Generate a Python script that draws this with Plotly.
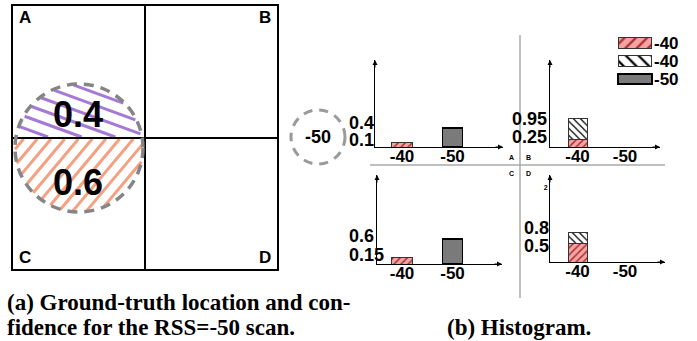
import numpy as np
import plotly.graph_objects as go

W, H = 697, 341

# ---------------- data ----------------
rss_categories = ['-40', '-50']
cell_confidence = ['0.4', '0.6']          # upper (A) / lower (C) part of the circle
scan_rss = '-50'

hist_A_pink = [0.10, 0.0]
hist_A_gray = [0.0, 0.40]
hist_C_pink = [0.15, 0.0]
hist_C_gray = [0.0, 0.60]
hist_B_pink = [0.25, 0.0]
hist_B_white = [0.70, 0.0]                # stacked, cumulative 0.95
hist_D_pink = [0.50, 0.0]
hist_D_white = [0.30, 0.0]                # stacked, cumulative 0.8

labels_A = ['0.4', '0.1']
labels_C = ['0.6', '0.15']
labels_B = ['0.95', '0.25']
labels_D = ['0.8', '0.5']
legend_labels = ['-40', '-40', '-50']

# ---------------- helpers ----------------
def px(x):
    return x / W

def py(y):
    return 1 - y / H

SANS = 'Liberation Sans'
SERIF = 'Liberation Serif'
PINK_BG = '#f7a3a3'
PINK_FG = '#a83232'
GRAY = '#7a7a7a'

fig = go.Figure()

# pixel canvas for the left drawing
fig.update_layout(
    xaxis=dict(domain=[0, 1], range=[0, W], visible=False, fixedrange=True),
    yaxis=dict(domain=[0, 1], range=[H, 0], visible=False, fixedrange=True),
)


def hatch(cx, cy, r, theta_deg, spacing, side, ysplit):
    th = np.radians(theta_deg)
    d = np.array([np.cos(th), np.sin(th)])
    n = np.array([-np.sin(th), np.cos(th)])
    c0 = np.array([cx, cy])
    xs, ys = [], []
    for c in np.arange(-r + spacing / 2, r, spacing):
        half = np.sqrt(max(r * r - c * c, 0))
        t0, t1 = -half, half
        y0 = cy + c * n[1]
        if abs(d[1]) > 1e-9:
            ts = (ysplit - y0) / d[1]
            if side == 'upper':
                if d[1] > 0:
                    t1 = min(t1, ts)
                else:
                    t0 = max(t0, ts)
            else:
                if d[1] > 0:
                    t0 = max(t0, ts)
                else:
                    t1 = min(t1, ts)
        if t1 > t0:
            p0 = c0 + c * n + t0 * d
            p1 = c0 + c * n + t1 * d
            xs += [p0[0], p1[0], None]
            ys += [p0[1], p1[1], None]
    return xs, ys

CX, CY, R = 79, 148, 63
SPLIT = 138
hx, hy = hatch(CX, CY, R, 20, 11.5, 'upper', SPLIT - 1)
fig.add_trace(go.Scatter(x=hx, y=hy, mode='lines', line=dict(color='#a57ad6', width=3),
                         hoverinfo='skip', showlegend=False, xaxis='x', yaxis='y'))
hx, hy = hatch(CX, CY, R + 1, -50, 10.5, 'lower', SPLIT + 1)
fig.add_trace(go.Scatter(x=hx, y=hy, mode='lines', line=dict(color='#f5a080', width=3),
                         hoverinfo='skip', showlegend=False, xaxis='x', yaxis='y'))

shapes = []
# grid of the floor plan
shapes.append(dict(type='rect', xref='x', yref='y', x0=12, x1=278, y0=5, y1=270,
                   line=dict(color='black', width=2)))
shapes.append(dict(type='line', xref='x', yref='y', x0=145, x1=145, y0=5, y1=270,
                   line=dict(color='black', width=2)))
shapes.append(dict(type='line', xref='x', yref='y', x0=12, x1=278, y0=SPLIT, y1=SPLIT,
                   line=dict(color='black', width=2)))
# dashed circles
shapes.append(dict(type='circle', xref='x', yref='y', x0=CX - 64, x1=CX + 64, y0=CY - 64, y1=CY + 64,
                   line=dict(color='#858585', width=3.5, dash='10px,7px')))
shapes.append(dict(type='circle', xref='x', yref='y', x0=291, x1=345, y0=110, y1=164,
                   line=dict(color='#9a9a9a', width=3, dash='9px,7px')))
# dividers of the histogram panel
shapes.append(dict(type='line', xref='x', yref='y', x0=520, x1=520, y0=35, y1=298,
                   line=dict(color='#aaaaaa', width=1.5)))
shapes.append(dict(type='line', xref='x', yref='y', x0=370, x1=665, y0=165, y1=165,
                   line=dict(color='#aaaaaa', width=1.5)))

annotations = []

def txt(x, y, s, size, xanchor='center', family=SANS, weight='bold', color='black'):
    annotations.append(dict(x=px(x), y=py(y), xref='paper', yref='paper', text=s,
                            showarrow=False, xanchor=xanchor, yanchor='middle',
                            font=dict(family=family, size=size, color=color, weight=weight)))

for lab, (x, y) in zip('ABCD', [(25, 18), (265, 18), (25, 257), (265, 257)]):
    txt(x, y, lab, 17)
txt(78, 115, cell_confidence[0], 36)
txt(78, 182, cell_confidence[1], 36)
txt(318, 137, scan_rss, 18)
for lab, (x, y) in zip('ABCD', [(511, 157), (528, 157), (511, 173), (528, 173)]):
    txt(x, y, lab, 7)

# captions
txt(5, 302, '(a) Ground-truth location and con-', 23, xanchor='left', family=SERIF)
txt(5, 327, 'fidence for the RSS=-50 scan.', 23, xanchor='left', family=SERIF)
txt(445, 327, '(b) Histogram.', 23, xanchor='left', family=SERIF)

# ---------------- histograms ----------------
panels = {
    'A': dict(n=2, x=(375, 503), y=(147, 60), xr=[-0.535, 2.0], yr=[0, 87 / 47.5],
              series=[('pink', hist_A_pink), ('gray', hist_A_gray)], labels=labels_A,
              lab_vals=[0.4, 0.1], lab_shift=[5.5, 2], lab_x=-28),
    'C': dict(n=3, x=(377, 502), y=(264, 175), xr=[-0.495, 1.98], yr=[0, 89 / 41.7],
              series=[('pink', hist_C_pink), ('gray', hist_C_gray)], labels=labels_C,
              lab_vals=[0.6, 0.15], lab_shift=[3, 3], lab_x=-30),
    'B': dict(n=4, x=(550, 660), y=(147, 60), xr=[-0.579, 1.737], yr=[0, 2.9],
              series=[('pink', hist_B_pink), ('white', hist_B_white)], labels=labels_B,
              lab_vals=[0.95, 0.25], lab_shift=[0, 2.5], lab_x=-40),
    'D': dict(n=5, x=(550, 665), y=(262, 175), xr=[-0.579, 1.842], yr=[0, 87 / 37],
              series=[('pink', hist_D_pink), ('white', hist_D_white)], labels=labels_D,
              lab_vals=[0.8, 0.5], lab_shift=[4.4, -2.5], lab_x=-28),
}


def bar_style(kind, legend=False):
    if kind == 'pink':
        return dict(color=PINK_BG, line=dict(color='#333333', width=1),
                    pattern=dict(shape='/', fgcolor=PINK_FG, bgcolor=PINK_BG,
                                 size=8 if legend else 5, solidity=0.3, fillmode='replace'))
    if kind == 'white':
        return dict(color='white', line=dict(color='#333333', width=1),
                    pattern=dict(shape='\\', fgcolor='black', bgcolor='white',
                                 size=9 if legend else 5, solidity=0.25, fillmode='replace'))
    return dict(color=GRAY, line=dict(color='black', width=1.5))


for name, p in panels.items():
    n = p['n']
    xa, ya = f'x{n}', f'y{n}'
    fig.update_layout(**{
        f'xaxis{n}': dict(domain=[px(p['x'][0]), px(p['x'][1])], range=p['xr'], anchor=ya,
                          showline=True, linecolor='black', linewidth=1, showgrid=False,
                          zeroline=False, tickvals=[0, 1], ticktext=rss_categories,
                          ticks='', ticklabelstandoff=-6,
                          tickfont=dict(family=SANS, size=17, color='black', weight='bold'),
                          fixedrange=True),
        f'yaxis{n}': dict(domain=[py(p['y'][0]), py(p['y'][1])], range=p['yr'], anchor=xa,
                          showline=True, linecolor='black', linewidth=1, showgrid=False,
                          zeroline=False, showticklabels=(name == 'D'),
                          tickvals=[2] if name == 'D' else [], ticks='',
                          tickfont=dict(family=SANS, size=7, color='black', weight='bold'),
                          fixedrange=True),
    })
    for kind, vals in p['series']:
        xs = [i for i, v in enumerate(vals) if v > 0]
        ys = [v for v in vals if v > 0]
        fig.add_trace(go.Bar(x=xs, y=ys, width=0.4, marker=bar_style(kind), xaxis=xa, yaxis=ya,
                             showlegend=False, hoverinfo='skip'))
    # arrow heads of the axes
    annotations.append(dict(xref=f'{xa} domain', yref=f'{ya} domain', x=1, y=0, ax=-9, ay=0,
                            text='', showarrow=True, arrowhead=2, arrowsize=1, arrowwidth=1,
                            arrowcolor='black'))
    annotations.append(dict(xref=f'{xa} domain', yref=f'{ya} domain', x=0, y=1, ax=0, ay=9,
                            text='', showarrow=True, arrowhead=2, arrowsize=1, arrowwidth=1,
                            arrowcolor='black'))
    for lab, v, sh in zip(p['labels'], p['lab_vals'], p['lab_shift']):
        annotations.append(dict(xref=f'{xa} domain', yref=ya, x=0, y=v, xanchor='left',
                                yanchor='middle', xshift=p['lab_x'], yshift=sh, text=lab,
                                showarrow=False,
                                font=dict(family=SANS, size=18, color='black', weight='bold')))

# ---------------- legend (as horizontal bars) ----------------
fig.update_layout(
    xaxis6=dict(domain=[px(617), px(653)], range=[-0.03, 1.03], anchor='y6', visible=False,
                fixedrange=True),
    yaxis6=dict(domain=[py(88), py(34)], range=[2.5, -0.5], anchor='x6', side='right',
                showline=False, showgrid=False, zeroline=False, tickvals=[0, 1, 2],
                ticktext=legend_labels, ticks='', ticklabelstandoff=0,
                tickfont=dict(family=SANS, size=17, color='black', weight='bold'),
                fixedrange=True),
)
for i, kind in enumerate(['pink', 'white', 'gray']):
    fig.add_trace(go.Bar(x=[1], y=[i], orientation='h', width=0.56,
                         marker=bar_style(kind, legend=True), xaxis='x6', yaxis='y6',
                         showlegend=False, hoverinfo='skip'))

fig.update_layout(
    width=W, height=H, margin=dict(l=0, r=0, t=0, b=0),
    paper_bgcolor='white', plot_bgcolor='rgba(0,0,0,0)',
    barmode='stack', shapes=shapes, annotations=annotations, showlegend=False,
)

fig.write_html('out.html', config={'displayModeBar': False},
               post_script="document.body.style.margin='0';document.body.style.overflow='hidden';")
